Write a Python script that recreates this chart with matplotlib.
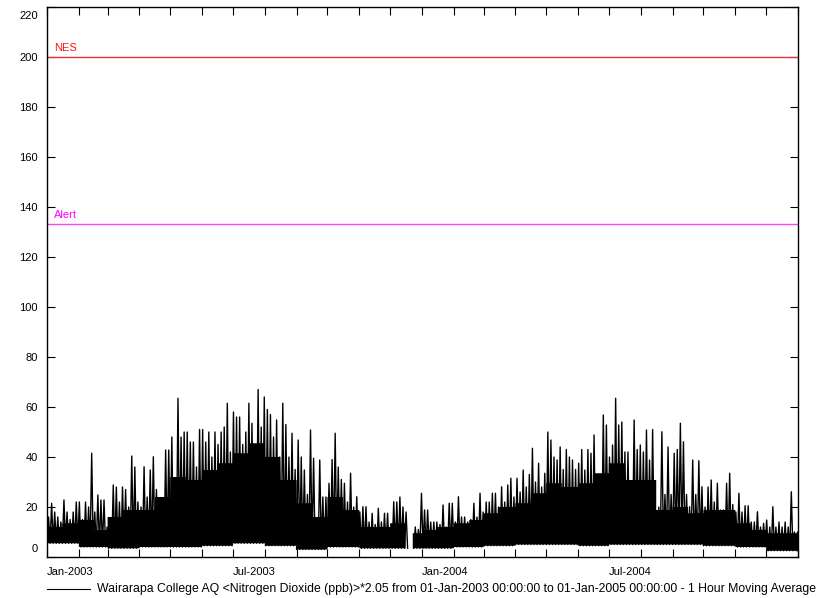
import numpy as np
import matplotlib
matplotlib.use("Agg")
import matplotlib.pyplot as plt
import matplotlib.dates as mdates
import matplotlib.ticker as mticker
import matplotlib.transforms as mtransforms
from matplotlib.lines import Line2D

plt.rcParams["font.family"] = ["Liberation Sans", "DejaVu Sans"]

START = np.datetime64("2003-01-01T00")
END = np.datetime64("2005-01-01T00")
WINDOW_H = 72  # one peak value per 3-day window

# highest hourly NO2 (ppb*2.05) in each 3-day window from 01-Jan-2003
peak_3day = [
    16, 21.5, 18, 16, 14, 22.8, 18, 15, 18, 22, 22, 15, 22, 20, 41.5, 18, 24.8, 22.8, 22.8, 12,
    12, 28.8, 28, 22, 28, 27, 20, 40.4, 36, 22, 20, 36.1, 24, 34.8, 40.1, 27, 18, 22.8, 42.8, 42.8,
    48, 30, 63.5, 48, 50, 50, 46, 46, 36, 51, 51, 46, 50, 40, 50, 45, 50, 52, 61.5, 42,
    58, 56, 56, 45, 50, 61.5, 53.5, 45, 67, 52, 64, 59, 57, 48, 54.8, 40, 61.5, 53, 40, 49.5,
    35, 46.8, 40, 34.8, 25, 50.8, 39.5, 14.8, 38.8, 24, 24, 29.5, 39, 49.5, 36, 31, 29.5, 22, 33.5, 20,
    24.1, 18, 20.1, 20.1, 14, 17.5, 13, 19.5, 14, 17.5, 17.5, 12, 22.1, 22, 24, 20, 18, np.nan, np.nan, 12,
    11, 25.5, 18.8, 18.8, 14, 14, 14, 13, 20.8, 12, 21.5, 21.5, 14, 24.1, 16, 16, 14, 15, 21.5, 16,
    25.5, 18, 22, 22, 25.5, 25.5, 20, 28.1, 22, 28.8, 31.5, 24, 31.5, 26, 34.8, 28, 33, 43.5, 30, 37.5,
    28, 33.5, 50, 46.8, 40, 38.8, 44, 35, 43, 40, 38.8, 35, 37.5, 43, 34.8, 43, 41.5, 48.8, 30.8, 30.8,
    56.8, 52.8, 40, 44.8, 63.5, 52.8, 54, 42, 42, 21, 54.8, 43, 44.8, 42, 50.8, 38.8, 51, 17.5, 20, 50.1,
    25, 44, 25, 41.5, 43, 53.5, 46.1, 25, 20.1, 38.8, 25, 38.5, 28.1, 20, 28, 30.8, 22, 29.5, 18.8, 18.8,
    29.5, 33.5, 21, 18, 25.5, 18, 20.5, 20.5, 14, 14, 18.1, 12, 13.5, 14.8, 12, 20.1, 12, 14, 12, 14,
    12, 26.1, 10, 10,
]

# typical overnight low for each month, Jan-2003 .. Dec-2004
monthly_floor = [5.5, 4, 3.5, 4, 4, 4.5, 5.5, 4.5, 3, 4, 3.5, 3.5,
                 3.5, 4, 4.5, 5, 5, 4.5, 5, 5, 5, 4.5, 4, 2.5]
# top of the dense daily band, first and second half of each month
halfmonth_band = [12, 13.5, 14.8, 10.8, 16, 18.8, 18.8, 24, 32, 30.8, 34.8, 37.5,
                  41.5, 45.5, 40, 30.8, 21.5, 16, 24, 18.8, 12, 12, 13.5, 9.5,
                  10.8, 12, 13.5, 14.8, 17.5, 20, 21.5, 25.5, 29.5, 28, 29.5, 33.5,
                  37.5, 30.8, 30.8, 18.8, 20, 17.5, 18.8, 18.8, 13.5, 10.8, 9.5, 9.5]

# missing record
gap_start = np.datetime64("2003-12-17T00")
gap_end = np.datetime64("2003-12-23T00")

NES = 200
ALERT = 133.33

label_dates = ["2003-01-01", "2003-07-01", "2004-01-01", "2004-07-01"]


def month_index(t):
    return (t.astype("datetime64[M]") - START.astype("datetime64[M]")).astype(int)


# zig-zag trace: window low -> window peak -> next window low
n = len(peak_3day)
t_pts = []
v_pts = []
floor_arr = np.array(monthly_floor)
for k in range(n):
    t_lo = START + np.timedelta64(WINDOW_H * k, "h")
    t_pk = t_lo + np.timedelta64(WINDOW_H // 2, "h")
    t_pts += [t_lo, t_pk]
    v_pts += [floor_arr[month_index(t_lo)], peak_3day[k]]
t_pts.append(END - np.timedelta64(1, "h"))
v_pts.append(floor_arr[-1])
t_pts = np.array(t_pts, dtype="datetime64[h]")
v_pts = np.array(v_pts, dtype=float)

# daily band underneath
days = np.arange(START.astype("datetime64[D]"), END.astype("datetime64[D]") + 1)
mi = np.clip(month_index(days), 0, len(monthly_floor) - 1)
dom = (days - days.astype("datetime64[M]")).astype(int)
hi_idx = np.clip(mi * 2 + (dom >= 15), 0, len(halfmonth_band) - 1)
band_lo = floor_arr[mi]
band_hi = np.array(halfmonth_band)[hi_idx]
present = ~((days >= gap_start.astype("datetime64[D]")) & (days < gap_end.astype("datetime64[D]")))

fig = plt.figure(figsize=(8.23, 5.98), dpi=100)
ax = fig.add_axes([47 / 823, 41 / 598, 751 / 823, 550 / 598])

ax.fill_between(days, band_lo, band_hi, where=present, step="post", color="black", lw=0)
ax.plot(t_pts, v_pts, color="black", lw=1.0)

ax.axhline(NES, color="#e83030", lw=1.0)
ax.axhline(ALERT, color="#ff40ff", lw=1.0)
lbl = mtransforms.blended_transform_factory(ax.transAxes, ax.transData)
ax.text(0.0093, NES + 1.5, "NES", color="#ff1010", fontsize=8, transform=lbl, va="bottom")
ax.text(0.0093, ALERT + 1.5, "Alert", color="#ff00ff", fontsize=8, transform=lbl, va="bottom")

ax.set_xlim(START, END)
ax.set_ylim(0, 220)
ax.set_yticks(range(0, 221, 20))
ax.xaxis.set_major_locator(mticker.FixedLocator(
    [mdates.date2num(np.datetime64(d)) for d in label_dates]))
ax.xaxis.set_minor_locator(mdates.MonthLocator())
ax.xaxis.set_major_formatter(mdates.DateFormatter("%b-%Y"))
ax.tick_params(which="both", direction="in", top=True, right=True, length=6, width=0.8,
               labelsize=8, color="black")
ax.tick_params(axis="x", pad=7)
ax.tick_params(axis="y", pad=6.5)
for t in ax.get_xticklabels():
    t.set_ha("left")

# end labels sit inside the axis range
ylabels = ax.get_yticklabels()
ylabels[0].set_transform(ylabels[0].get_transform()
                         + mtransforms.ScaledTranslation(0, 9 / 100, fig.dpi_scale_trans))
ylabels[-1].set_transform(ylabels[-1].get_transform()
                          + mtransforms.ScaledTranslation(0, -8 / 100, fig.dpi_scale_trans))

for s in ax.spines.values():
    s.set_linewidth(1.0)
    s.set_color("black")

# series key below the axis
ky = 1 - 589 / 598
fig.add_artist(Line2D([47 / 823, 90 / 823], [ky, ky], color="black", lw=0.8))
fig.text(97 / 823, ky,
         "Wairarapa College AQ <Nitrogen Dioxide (ppb)>*2.05 from 01-Jan-2003 00:00:00 "
         "to 01-Jan-2005 00:00:00 - 1 Hour Moving Average",
         fontsize=8.85, va="center", ha="left")

fig.savefig("out.png", dpi=100)
